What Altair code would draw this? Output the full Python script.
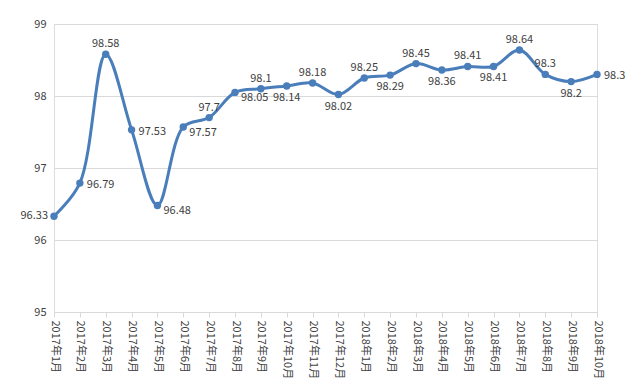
import altair as alt
import pandas as pd

months = ["2017年1月", "2017年2月", "2017年3月", "2017年4月", "2017年5月", "2017年6月",
          "2017年7月", "2017年8月", "2017年9月", "2017年10月", "2017年11月", "2017年12月",
          "2018年1月", "2018年2月", "2018年3月", "2018年4月", "2018年5月", "2018年6月",
          "2018年7月", "2018年8月", "2018年9月", "2018年10月"]
values = [96.33, 96.79, 98.58, 97.53, 96.48, 97.57, 97.7, 98.05, 98.1, 98.14, 98.18, 98.02,
          98.25, 98.29, 98.45, 98.36, 98.41, 98.41, 98.64, 98.3, 98.2, 98.3]
labels = ["96.33", "96.79", "98.58", "97.53", "96.48", "97.57", "97.7", "98.05", "98.1", "98.14",
          "98.18", "98.02", "98.25", "98.29", "98.45", "98.36", "98.41", "98.41", "98.64", "98.3",
          "98.2", "98.3"]
y_ticks = [95, 96, 97, 98, 99]

# label placement groups (Excel-style data label positions)
place_left = ["2017年1月"]
place_right = ["2017年2月", "2017年4月", "2018年10月"]
place_right_below = ["2017年5月", "2017年6月", "2017年8月"]
place_above = ["2017年3月", "2017年7月", "2017年9月", "2017年11月", "2018年1月", "2018年3月",
               "2018年5月", "2018年7月", "2018年8月"]
place_below = ["2017年10月", "2017年12月", "2018年2月", "2018年4月", "2018年6月", "2018年9月"]

df = pd.DataFrame({"month": months, "value": values, "label": labels})

FONT = "Noto Sans CJK SC"
COLOR = "#4A7EBB"
TXT = "#404040"

x = alt.X("month:N", sort=months,
          scale=alt.Scale(type="point", padding=0),
          axis=alt.Axis(title=None, labelAngle=90, labelAlign="left", labelBaseline="middle",
                        labelFont=FONT, labelFontSize=11, labelColor=TXT, labelPadding=3,
                        labelLimit=100,
                        domainColor="#d9d9d9", tickColor="#d9d9d9", tickSize=5, grid=False))
y = alt.Y("value:Q", scale=alt.Scale(domain=[95, 99], nice=False, zero=False),
          axis=alt.Axis(title=None, values=y_ticks, format="d", labelFont=FONT, labelFontSize=11,
                        labelColor=TXT, labelPadding=8, domain=False, ticks=False,
                        gridColor="#d9d9d9", gridWidth=1))

base = alt.Chart(df)

line = base.mark_line(interpolate="catmull-rom", color=COLOR, strokeWidth=3).encode(x=x, y=y)
pts = base.mark_point(filled=True, size=55, color=COLOR, opacity=1).encode(x=x, y=y)

def lab(group, **kw):
    return base.transform_filter(
        alt.FieldOneOfPredicate(field="month", oneOf=group)
    ).mark_text(font=FONT, fontSize=11, color=TXT, **kw).encode(x=x, y=y, text="label:N")

t_left = lab(place_left, align="right", dx=-6, dy=0)
t_right = lab(place_right, align="left", dx=7, dy=2)
t_rb = lab(place_right_below, align="left", dx=6, dy=6)
t_above = lab(place_above, align="center", dy=-10)
t_below = lab(place_below, align="center", dy=12)

chart = alt.layer(line, pts, t_left, t_right, t_rb, t_above, t_below).properties(
    width=543, height=288,
    padding={"left": 46, "top": 16, "right": 30, "bottom": 74},
    autosize=alt.AutoSizeParams(type="none"),
).configure_view(stroke=None).configure(background="white")

chart.save("out.html", embed_options={"renderer": "svg", "actions": False})
